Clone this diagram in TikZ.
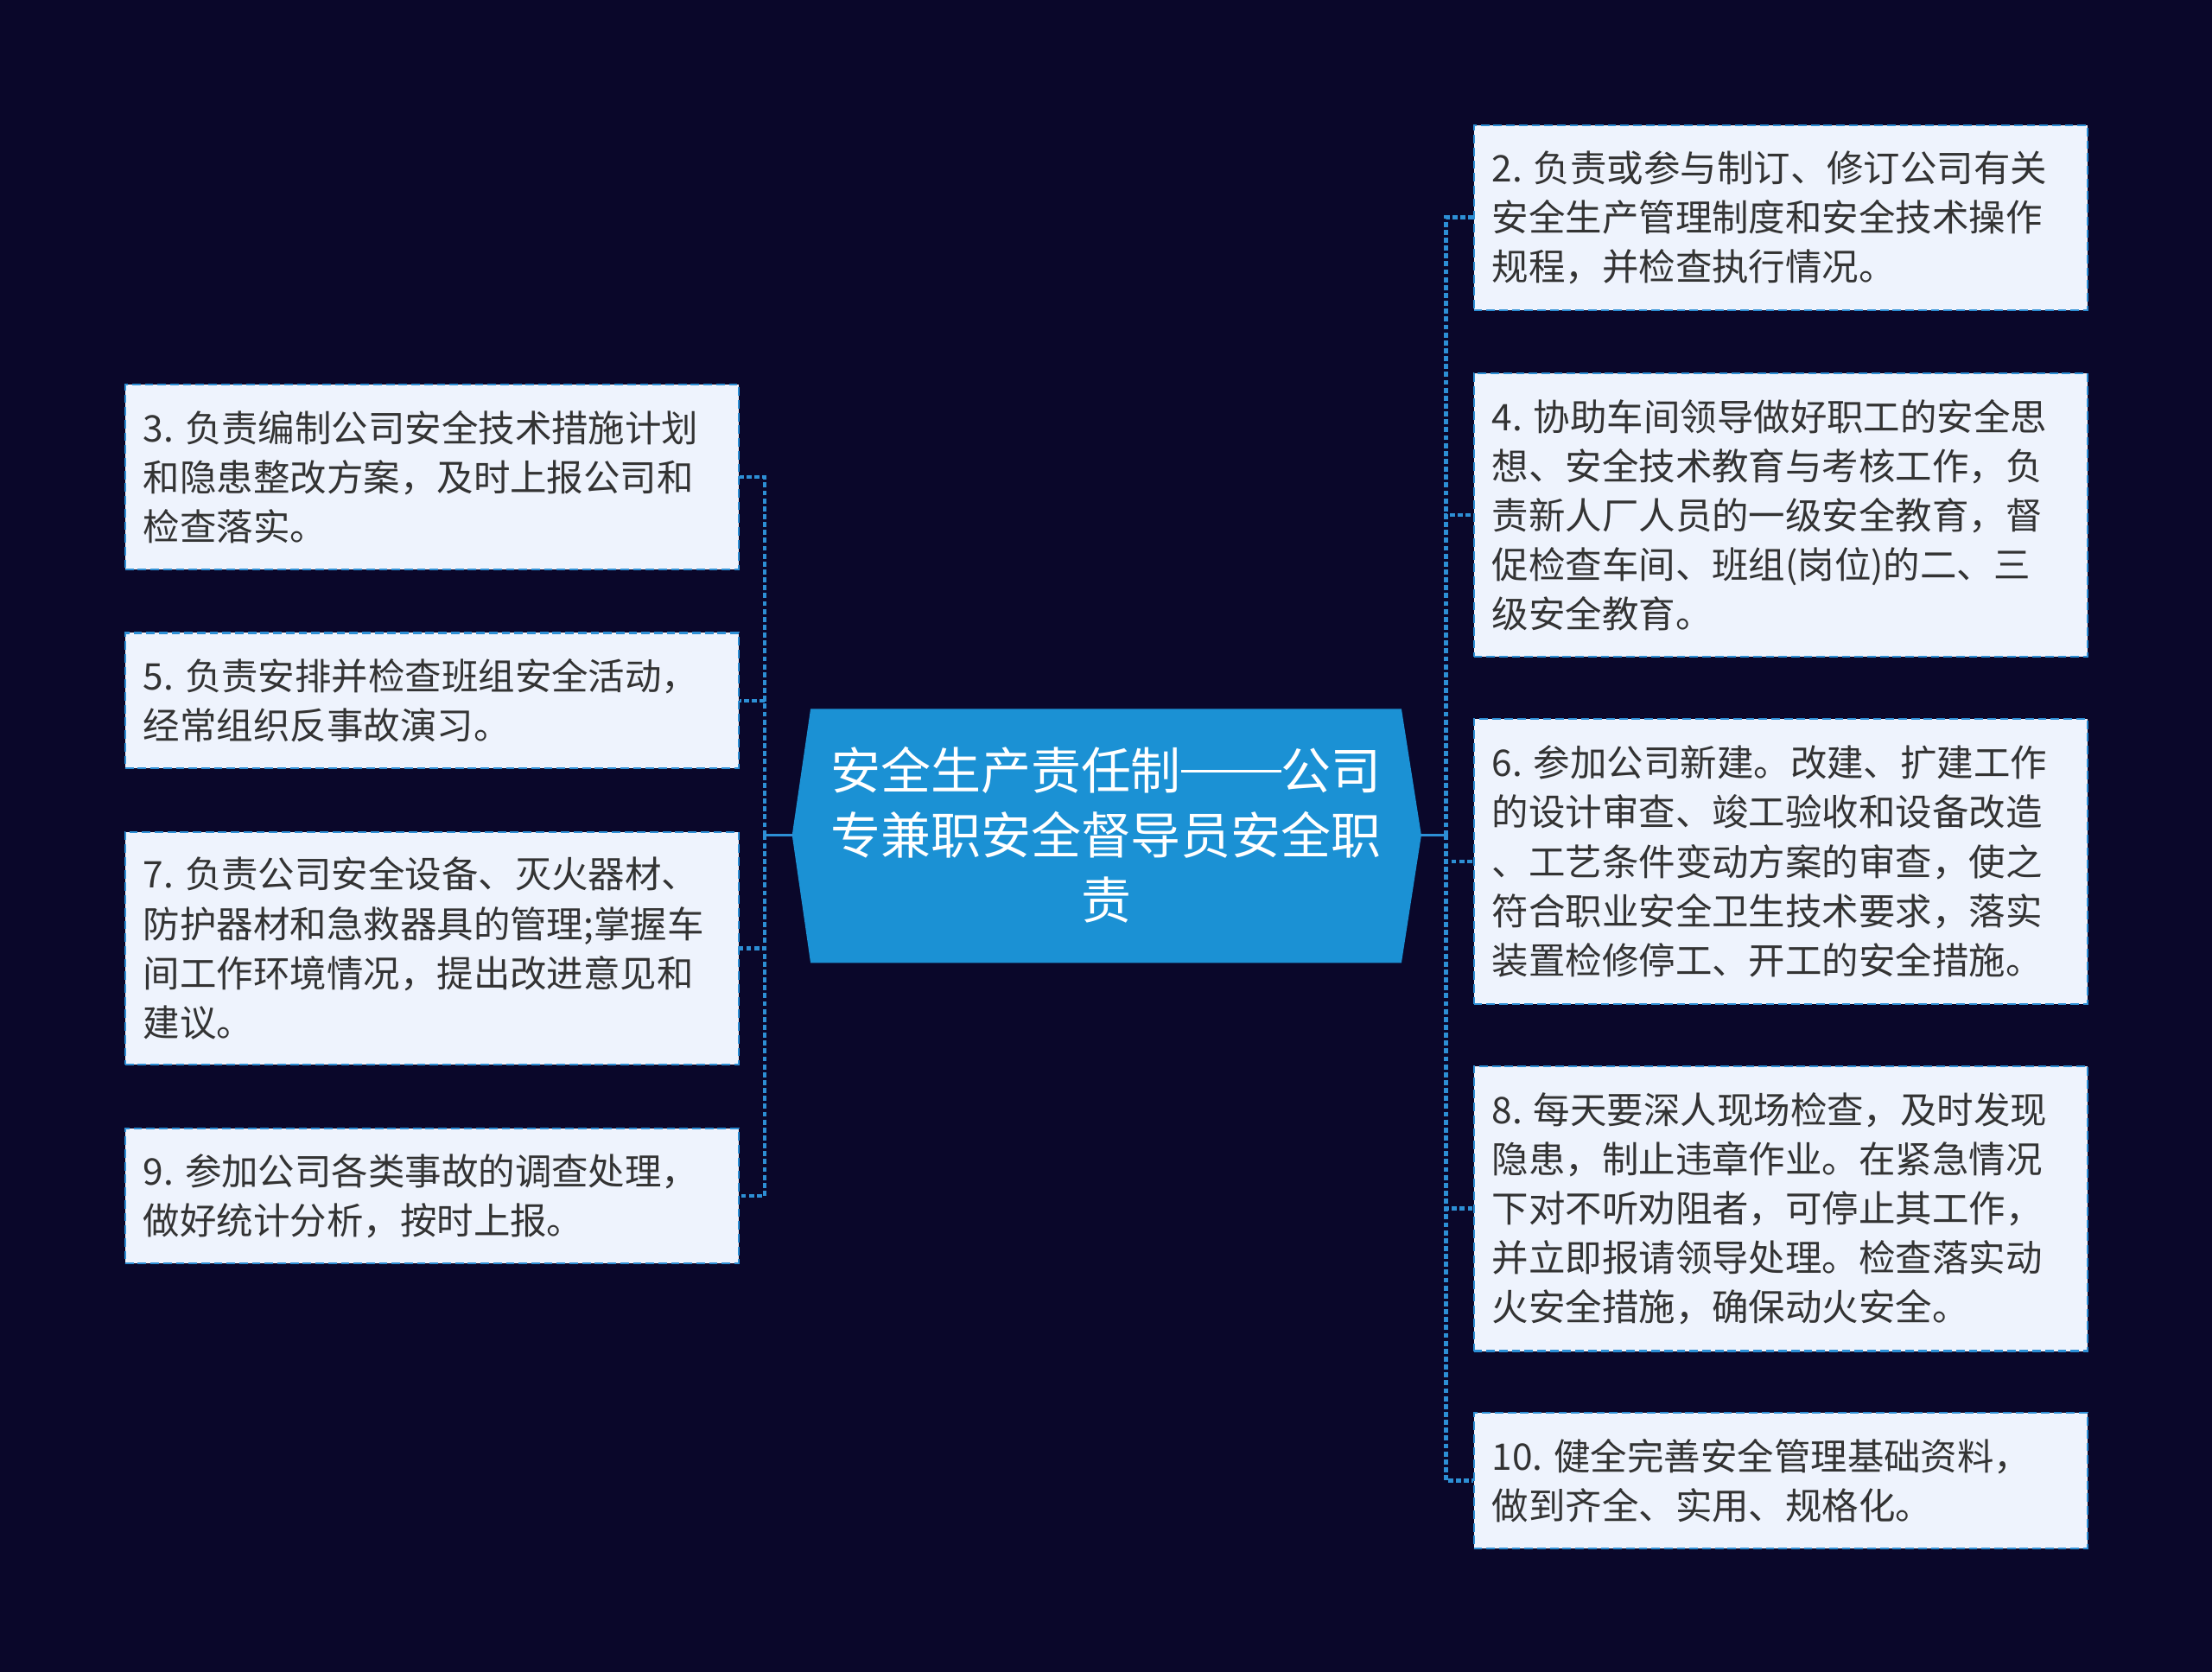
\documentclass[tikz,border=0pt]{standalone}
\usepackage{fontspec}
\setmainfont{Noto Sans CJK SC}
\definecolor{bg}{RGB}{10,7,42}
\definecolor{boxfill}{RGB}{238,243,253}
\definecolor{edge}{RGB}{45,143,213}
\definecolor{rootfill}{RGB}{27,145,212}
\definecolor{txt}{RGB}{51,51,51}
\newcommand{\nsp}{\hspace{0.3em}}
\newcommand{\twodash}{\rule[0.34em]{2em}{0.06em}}
\tikzset{
  leaf/.style={draw=edge, fill=boxfill, dash pattern=on 6pt off 3pt, line width=1.3pt,
    minimum width=435pt, inner xsep=13pt, inner ysep=0pt, text width=409pt, align=left,
    text=txt, font=\fontsize{26}{35}\selectfont, anchor=north west},
  rootshape/.style={fill=rootfill, draw=rootfill, line width=1pt},
  roottext/.style={text=white, align=center, font=\fontsize{35.5}{46}\selectfont, inner sep=0pt},
  link/.style={draw=edge, line width=2.8pt, dash pattern=on 3.6pt off 2pt},
  trunk/.style={draw=edge, line width=2.4pt}
}
\begin{document}
\begin{tikzpicture}[x=1pt, y=-1pt]
\useasboundingbox (0,0) rectangle (1568,1185);
\fill[bg] (0,0) rectangle (1568,1185);

% root
\fill[rootshape] (575,503) -- (993,503) -- (1007,592) -- (993,682) -- (575,682) -- (562,592) -- cycle;
\coordinate (rootL) at (562,592);
\coordinate (rootR) at (1007,592);
\node[roottext] (root) at (784,592) {安全生产责任制\twodash 公司\\专兼职安全督导员安全职\\责};

% spine points
\coordinate (jL) at (542,592);
\coordinate (jR) at (1025,592);

% left leaves
\node[leaf, minimum height=131pt] (n3) at (88,272) {3.\nsp 负责编制公司安全技术措施计划\\和隐患整改方案，及时上报公司和\\检查落实。};
\node[leaf, minimum height=96pt] (n5) at (88,448) {5.\nsp 负责安排并检查班组安全活动，\\经常组织反事故演习。};
\node[leaf, minimum height=165pt] (n7) at (88,589) {7.\nsp 负责公司安全设备、灭火器材、\\防护器材和急救器具的管理;掌握车\\间工作环境情况，提出改进意见和\\建议。};
\node[leaf, minimum height=96pt] (n9) at (88,799) {9.\nsp 参加公司各类事故的调查处理，\\做好统计分析，按时上报。};

% right leaves
\node[leaf, minimum height=131pt] (n2) at (1044,88) {2.\nsp 负责或参与制订、修订公司有关\\安全生产管理制度和安全技术操作\\规程，并检查执行情况。};
\node[leaf, minimum height=201pt] (n4) at (1044,264) {4.\nsp 协助车间领导做好职工的安全思\\想、安全技术教育与考核工作，负\\责新人厂人员的一级安全教育，督\\促检查车间、班组(岗位)的二、三\\级安全教育。};
\node[leaf, minimum height=202pt] (n6) at (1044,509) {6.\nsp 参加公司新建。改建、扩建工作\\的设计审查、竣工验收和设备改造\\、工艺条件变动方案的审查，使之\\符合职业安全卫生技术要求，落实\\装置检修停工、开工的安全措施。};
\node[leaf, minimum height=202pt] (n8) at (1044,755) {8.\nsp 每天要深人现场检查，及时发现\\隐患，制止违章作业。在紧急情况\\下对不听劝阻者，可停止其工作，\\并立即报请领导处理。检查落实动\\火安全措施，确保动火安全。};
\node[leaf, minimum height=96pt] (n10) at (1044,1001) {10.\nsp 健全完善安全管理基础资料，\\做到齐全、实用、规格化。};

% connectors
\draw[trunk] (rootL) -- (jL);
\draw[trunk] (rootR) -- (jR);
\foreach \n in {n3,n5,n7,n9}{
  \draw[link] (jL) |- (\n.east);
}
\foreach \n in {n2,n4,n6,n8,n10}{
  \draw[link] (jR) |- (\n.west);
}
\end{tikzpicture}
\end{document}
